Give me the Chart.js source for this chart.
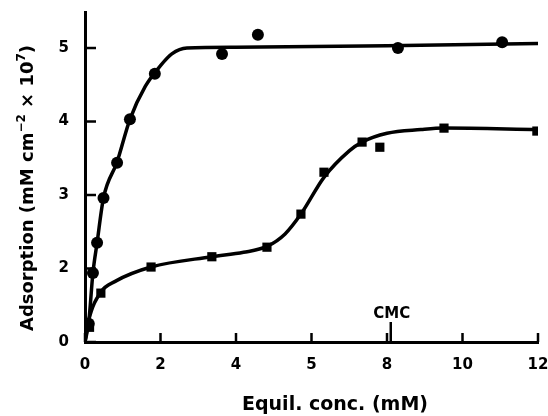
<!DOCTYPE html>
<html>
<head>
<meta charset="utf-8">
<script src="https://cdn.jsdelivr.net/npm/chart.js@4.4.1/dist/chart.umd.min.js"></script>
<style>
  body { margin: 0; background: #fff; }
</style>
</head>
<body>
<canvas id="chart" width="548" height="416"></canvas>
<script>
// tick labels as printed on the figure
const xTickLabels = ['0', '2', '4', '5', '8', '10', '12'];
const yTickLabels = ['0', '2', '3', '4', '5'];

// circles (upper isotherm), y in mM cm^-2 x 10^7
const circleX = [0.10, 0.21, 0.32, 0.49, 0.85, 1.19, 1.85, 3.63, 4.58, 8.29, 11.05];
const circleY = [0.50, 1.88, 2.35, 2.96, 3.44, 4.03, 4.65, 4.92, 5.18, 5.00, 5.08];

// squares (lower isotherm)
const squareX = [0.12, 0.42, 1.75, 3.36, 4.82, 5.72, 6.33, 7.34, 7.81, 9.51, 11.97];
const squareY = [0.40, 1.33, 2.02, 2.16, 2.29, 2.74, 3.31, 3.72, 3.65, 3.91, 3.87];

// drawn curves through the points
const circleCurveX = [0.0, 0.10, 0.21, 0.32, 0.49, 0.85, 1.19, 1.60, 2.00, 2.30, 2.70, 4.00, 8.00, 12.0];
const circleCurveY = [0.0, 0.55, 1.88, 2.35, 2.96, 3.45, 4.03, 4.48, 4.76, 4.92, 5.00, 5.01, 5.03, 5.06];

const squareCurveX = [0.0, 0.10, 0.42, 0.80, 1.75, 3.36, 4.20, 4.82, 5.30, 5.72, 6.33, 7.00, 7.34, 8.00, 8.90, 9.51, 12.0];
const squareCurveY = [0.0, 0.60, 1.36, 1.65, 2.02, 2.16, 2.22, 2.30, 2.47, 2.74, 3.24, 3.60, 3.72, 3.84, 3.89, 3.91, 3.89];

const cmcX = 8.1;

// the printed y axis is evenly spaced 0,2,3,4,5 (0..2 squeezed into one step)
function toAxis(v) { return v >= 2 ? v - 1 : v / 2; }
function pts(xs, ys) { return xs.map((x, i) => ({ x: x, y: toAxis(ys[i]) })); }

const FONT = '"DejaVu Sans", "Liberation Sans", sans-serif';

const overlay = {
  id: 'overlay',
  afterDraw(chart) {
    const ctx = chart.ctx;
    const xs = chart.scales.x, ys = chart.scales.y;
    const a = chart.chartArea;
    ctx.save();
    ctx.strokeStyle = '#000';
    ctx.fillStyle = '#000';
    ctx.lineWidth = 2.5;
    // y ticks, pointing into the plot
    for (let i = 0; i < yTickLabels.length; i++) {
      const py = ys.getPixelForValue(i);
      ctx.beginPath(); ctx.moveTo(a.left, py); ctx.lineTo(a.left + 11, py); ctx.stroke();
    }
    // x ticks
    for (let i = 0; i < xTickLabels.length; i++) {
      const px = xs.getPixelForValue(i * 2);
      ctx.beginPath(); ctx.moveTo(px, a.bottom); ctx.lineTo(px, a.bottom - 9); ctx.stroke();
    }
    // CMC marker
    const cx = xs.getPixelForValue(cmcX);
    ctx.beginPath(); ctx.moveTo(cx, a.bottom); ctx.lineTo(cx, a.bottom - 20); ctx.stroke();
    ctx.font = 'bold 15px ' + FONT;
    ctx.textAlign = 'center';
    ctx.textBaseline = 'alphabetic';
    ctx.fillText('CMC', cx + 1, 318);

    // x title
    ctx.font = 'bold 19px ' + FONT;
    ctx.fillText('Equil. conc. (mM)', 335, 410);

    // y title with superscripts
    const parts = [
      ['Adsorption (mM cm', false], ['\u22122', true], [' \u00d7 10', false], ['7', true], [')', false]
    ];
    const big = 'bold 18px ' + FONT, small = 'bold 12px ' + FONT;
    let total = 0;
    parts.forEach(p => { ctx.font = p[1] ? small : big; total += ctx.measureText(p[0]).width; });
    ctx.translate(33, 188);
    ctx.rotate(-Math.PI / 2);
    ctx.textAlign = 'left';
    let x = -total / 2;
    parts.forEach(p => {
      ctx.font = p[1] ? small : big;
      ctx.fillText(p[0], x, p[1] ? -8 : 0);
      x += ctx.measureText(p[0]).width;
    });
    ctx.restore();
  }
};

new Chart(document.getElementById('chart'), {
  type: 'scatter',
  data: {
    datasets: [
      { data: pts(circleCurveX, circleCurveY), showLine: true, pointRadius: 0, borderColor: '#000',
        borderWidth: 3.5, cubicInterpolationMode: 'monotone' },
      { data: pts(squareCurveX, squareCurveY), showLine: true, pointRadius: 0, borderColor: '#000',
        borderWidth: 3.5, cubicInterpolationMode: 'monotone' },
      { data: pts(circleX, circleY), pointStyle: 'circle', pointRadius: 6,
        backgroundColor: '#000', borderColor: '#000', borderWidth: 0 },
      { data: pts(squareX, squareY), pointStyle: 'rect', pointRadius: 6.5,
        backgroundColor: '#000', borderColor: '#000', borderWidth: 0 }
    ]
  },
  options: {
    responsive: false,
    animation: false,
    events: [],
    layout: { padding: { top: 12, right: 10, left: 0, bottom: 0 } },
    plugins: { legend: { display: false }, tooltip: { enabled: false } },
    scales: {
      x: {
        type: 'linear', min: 0, max: 12,
        grid: { display: false },
        border: { display: true, color: '#000', width: 3 },
        ticks: {
          stepSize: 2, color: '#000', padding: 6, maxRotation: 0,
          font: { family: FONT, size: 15, weight: 'bold' },
          callback: v => xTickLabels[v / 2]
        },
        afterFit: s => { s.height = 74; s.paddingLeft = 0; s.paddingRight = 0; }
      },
      y: {
        type: 'linear', min: 0, max: 4.49,
        grid: { display: false },
        border: { display: true, color: '#000', width: 3 },
        ticks: {
          stepSize: 1, includeBounds: false, color: '#000', padding: 8,
          font: { family: FONT, size: 15, weight: 'bold' },
          callback: v => Number.isInteger(v) ? yTickLabels[v] : ''
        },
        afterFit: s => { s.width = 85; s.paddingTop = 0; s.paddingBottom = 0; }
      }
    }
  },
  plugins: [overlay]
});
</script>
</body>
</html>
